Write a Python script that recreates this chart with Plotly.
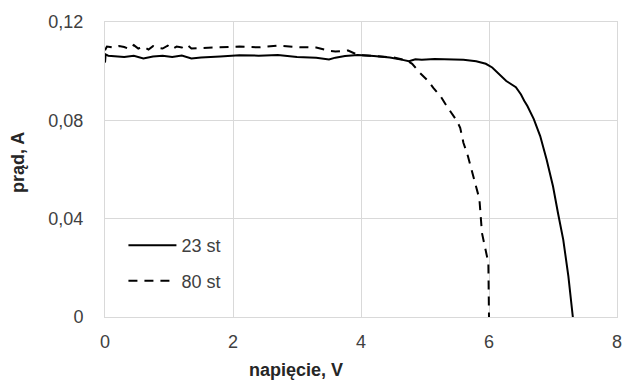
import plotly.graph_objects as go

# 23 st (solid)
x23 = [0, 0.01, 0.05, 0.15, 0.3, 0.45, 0.6, 0.75, 0.9, 1.05, 1.2, 1.35, 1.5, 1.8, 2.1, 2.4, 2.7,
       3.0, 3.3, 3.5, 3.6, 3.75, 3.95, 4.2, 4.45, 4.65, 4.75, 4.85, 4.95, 5.15, 5.4, 5.6, 5.8,
       5.95, 6.05, 6.15, 6.27, 6.42, 6.5, 6.55, 6.6, 6.7, 6.8, 6.9, 7.0, 7.08, 7.16, 7.24, 7.28, 7.31]
y23 = [0.1035, 0.1068, 0.1063, 0.1062, 0.1058, 0.1063, 0.1052, 0.1060, 0.1063, 0.1058, 0.1064,
       0.1052, 0.1056, 0.1060, 0.1065, 0.1063, 0.1066, 0.1058, 0.1055, 0.1048, 0.1055, 0.1062,
       0.1066, 0.1062, 0.1056, 0.1046, 0.1040, 0.1048, 0.1046, 0.1050, 0.1048, 0.1046, 0.1040,
       0.1030, 0.1015, 0.0990, 0.0960, 0.0935, 0.0905, 0.0880, 0.0858, 0.0805, 0.0736, 0.0641,
       0.0532, 0.0420, 0.0315, 0.0166, 0.0080, 0.0]

# 80 st (dashed)
x80 = [0, 0.03, 0.08, 0.15, 0.22, 0.3, 0.38, 0.45, 0.52, 0.6, 0.68, 0.75, 0.82, 0.9, 0.98, 1.05,
       1.12, 1.2, 1.28, 1.35, 1.5, 1.8, 2.1, 2.4, 2.7, 3.0, 3.3, 3.5, 3.6, 3.8, 3.95, 4.2, 4.5,
       4.7, 4.8, 4.92, 5.05, 5.13, 5.25, 5.34, 5.45, 5.5, 5.55, 5.6, 5.67, 5.73, 5.8, 5.85, 5.89,
       5.93, 5.96, 5.99, 6.0]
y80 = [0.1085, 0.1100, 0.1098, 0.1095, 0.1102, 0.1098, 0.1090, 0.1106, 0.1092, 0.1100, 0.1088,
       0.1102, 0.1095, 0.1092, 0.1104, 0.1090, 0.1100, 0.1096, 0.1108, 0.1092, 0.1094, 0.1096,
       0.1100, 0.1097, 0.1104, 0.1098, 0.1096, 0.1083, 0.1080, 0.1084, 0.1066, 0.1062, 0.1056,
       0.1045, 0.1030, 0.0993, 0.0960, 0.0932, 0.0895, 0.0858, 0.0815, 0.0797, 0.0770, 0.0709,
       0.0655, 0.0600, 0.0530, 0.0480, 0.0342, 0.0290, 0.0247, 0.0220, 0.0]

x_ticks = [0, 2, 4, 6, 8]
y_ticks = [0, 0.04, 0.08, 0.12]
y_tick_text = ["0", "0,04", "0,08", "0,12"]

fig = go.Figure()
fig.add_trace(go.Scatter(x=x23, y=y23, mode="lines", name="23 st", legendgroup="a",
                         line=dict(color="black", width=2)))
fig.add_trace(go.Scatter(x=x80, y=y80, mode="lines", name="80 st", legendgroup="b",
                         line=dict(color="black", width=2, dash="9px,7px")))

W, H = 622, 381
l, r, t, b = 105, 5, 22, 64
pw, ph = W - l - r, H - t - b

font = "Liberation Sans, Arial, sans-serif"
fig.update_layout(
    width=W, height=H,
    margin=dict(l=l, r=r, t=t, b=b, autoexpand=False),
    plot_bgcolor="white", paper_bgcolor="white",
    font=dict(family=font, size=18, color="#404040"),
    separators=", ",
    legend=dict(x=0.036, y=0.305, xanchor="left", yanchor="top", bgcolor="white",
                itemwidth=48,
                font=dict(size=18, color="#404040"), traceorder="grouped", tracegroupgap=9),
    xaxis=dict(range=[0, 8], tickvals=x_ticks, showgrid=True, gridcolor="#d9d9d9", gridwidth=1,
               showline=True, linecolor="#d9d9d9", linewidth=1, mirror=True, zeroline=False,
               ticks="", ticklabelstandoff=8, ticklabeloverflow="allow", automargin=False),
    yaxis=dict(range=[0, 0.12], tickvals=y_ticks, ticktext=y_tick_text, showgrid=True,
               gridcolor="#d9d9d9", gridwidth=1, showline=True, linecolor="#d9d9d9", linewidth=1,
               mirror=True, zeroline=False, ticks="", ticklabelstandoff=17, automargin=False),
    annotations=[
        dict(text="<b>napięcie, V</b>", xref="paper", yref="paper",
             x=(296 - l) / pw, y=(H - b - 370) / ph, xanchor="center", yanchor="middle",
             showarrow=False, font=dict(size=18, color="#262626")),
        dict(text="<b>prąd, A</b>", xref="paper", yref="paper",
             x=(18 - l) / pw, y=(H - b - 163) / ph, xanchor="center", yanchor="middle",
             showarrow=False, textangle=-90, font=dict(size=18, color="#262626")),
    ],
)

fig.write_html("out.html")
